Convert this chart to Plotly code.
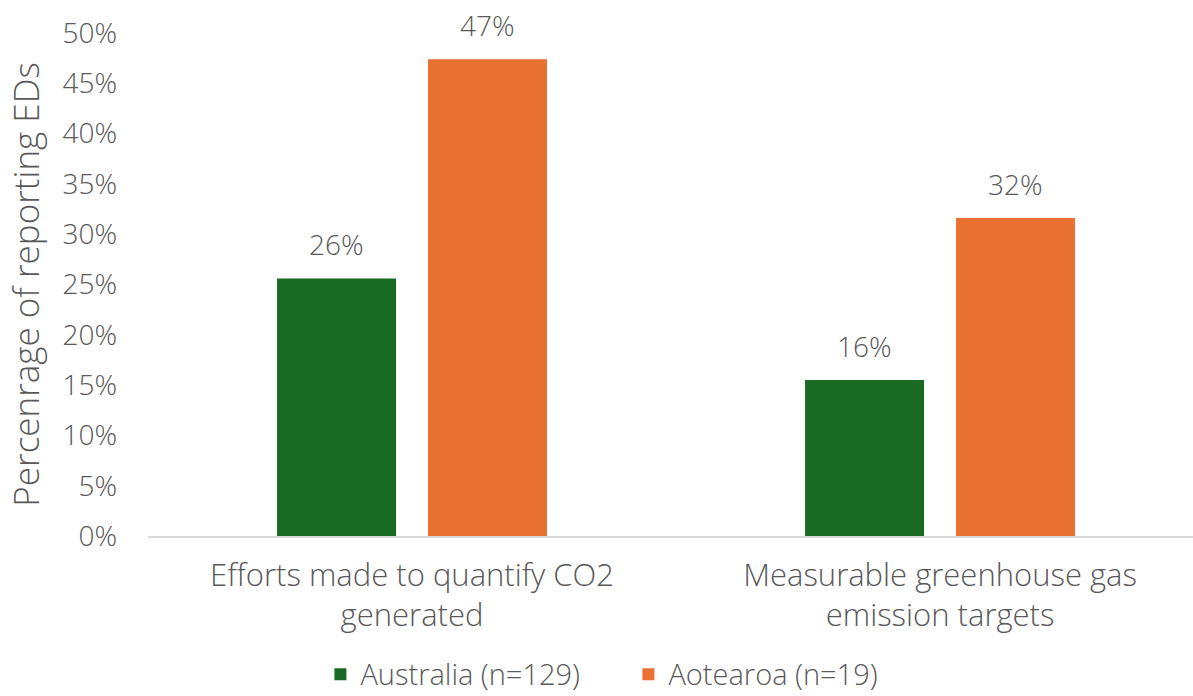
import plotly.graph_objects as go

# Survey results by region
categories = ["Efforts made to quantify CO2<br>generated",
              "Measurable greenhouse gas<br>emission targets"]
australia = [0.256, 0.155]
aotearoa = [0.474, 0.316]
series_names = ["Australia (n=129)", "Aotearoa (n=19)"]
y_ticks = [0, 0.05, 0.10, 0.15, 0.20, 0.25, 0.30, 0.35, 0.40, 0.45, 0.50]

GREEN = "#196B24"
ORANGE = "#E97132"
TEXT = "#595959"
FONT = "Open Sans"
FS = 28
BAR_OFFSET = 0.143  # half the distance between paired bar centres, in category units

fig = go.Figure()
for name, vals, color in [(series_names[0], australia, GREEN),
                          (series_names[1], aotearoa, ORANGE)]:
    fig.add_trace(go.Bar(
        x=categories, y=vals, name=name,
        marker=dict(color=color, line=dict(width=0)),
    ))

# value labels above each bar
for sign, vals in [(-1, australia), (1, aotearoa)]:
    for i, v in enumerate(vals):
        fig.add_annotation(
            x=i + sign * BAR_OFFSET, y=v, xref="x", yref="y",
            text=f"{v:.0%}", showarrow=False, yanchor="bottom", yshift=13,
            font=dict(size=FS, color=TEXT, family=FONT, weight=300),
        )

fig.update_layout(
    width=1193, height=696,
    margin=dict(l=148, r=0, t=33, b=160, autoexpand=False),
    paper_bgcolor="white", plot_bgcolor="white",
    barmode="group", bargap=0.428, bargroupgap=0.212,
    font=dict(family=FONT, color=TEXT, size=FS, weight=300),
    showlegend=True,
    legend=dict(orientation="h", x=0.165, xanchor="left", y=-0.275,
                yanchor="middle", font=dict(size=29, color=TEXT, weight=300),
                itemwidth=30, entrywidth=263, entrywidthmode="pixels",
                traceorder="normal"),
)
fig.update_xaxes(
    range=[-0.5, 1.479], showgrid=False, showline=True,
    linecolor="#d9d9d9", linewidth=1.5, ticks="",
    tickfont=dict(size=31, color=TEXT, weight=300),
    ticklabelstandoff=11,
)
fig.update_yaxes(
    range=[0, 0.5], tickvals=y_ticks, tickformat=".0%",
    showgrid=False, showline=False, zeroline=False, ticks="",
    tickfont=dict(size=FS, color=TEXT, weight=300),
    ticklabelstandoff=30,
    title=dict(text="Percenrage of reporting EDs",
               font=dict(size=35, color=TEXT, weight=300), standoff=12),
)

fig.write_html("out.html")
